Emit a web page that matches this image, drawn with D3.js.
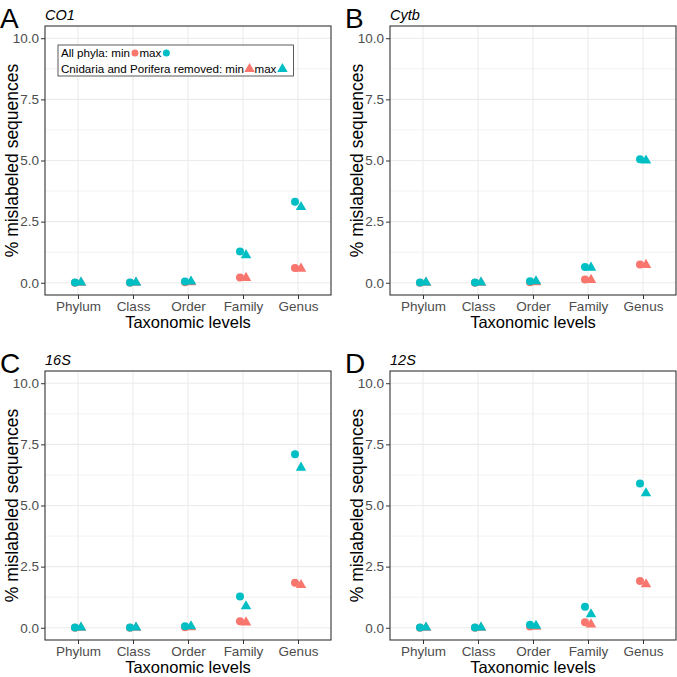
<!DOCTYPE html>
<html><head><meta charset="utf-8">
<script src="https://cdn.jsdelivr.net/npm/d3@7"></script>
<style>body{margin:0;background:#fff}</style>
</head><body>
<script>
const levels = ["Phylum","Class","Order","Family","Genus"];
const yTicks = [0, 2.5, 5, 7.5, 10];
const panelLetters = ["A","B","C","D"];
const genes = ["CO1","Cytb","16S","12S"];
// values per gene (order of genes above), per level
const allMin = [[0,0,0.02,0.22,0.60],[0,0,0.02,0.13,0.75],[0,0,0.02,0.27,1.84],[0,0,0.05,0.23,1.91]];
const allMax = [[0.01,0.01,0.05,1.28,3.31],[0.01,0.01,0.06,0.65,5.05],[0.01,0.01,0.06,1.28,7.10],[0.01,0.01,0.12,0.86,5.90]];
const remMin = [[0,0,0.02,0.20,0.58],[0,0,0.02,0.12,0.73],[0,0,0.02,0.22,1.75],[0,0,0.04,0.14,1.78]];
const remMax = [[0.01,0.01,0.05,1.13,3.10],[0.01,0.01,0.06,0.62,5.00],[0.01,0.01,0.06,0.88,6.55],[0.01,0.01,0.08,0.55,5.50]];

const W = 677, H = 677;
const RED = "#F8766D", CYAN = "#00BFC4";
const FONT = "'Liberation Sans', Arial, sans-serif";
const svg = d3.select("body").append("svg").attr("width", W).attr("height", H)
  .style("font-family", FONT);

const lefts = [45, 390], tops = [26, 371];
const pw = 286, ph = 269;

genes.forEach((gene, gi) => {
  const col = gi % 2, row = Math.floor(gi / 2);
  const x0 = lefts[col], y0 = tops[row];
  const g = svg.append("g").attr("transform", `translate(${x0},${y0})`);
  const x = d3.scalePoint().domain(levels).range([0, pw]).padding(0.6);
  const y = d3.scaleLinear().domain([-0.5, 10.5]).range([ph, 0]);
  const minor = [1.25, 3.75, 6.25, 8.75];
  g.selectAll(".mn").data(minor).enter().append("line")
    .attr("x1", 0).attr("x2", pw).attr("y1", d => y(d)).attr("y2", d => y(d))
    .attr("stroke", "#EBEBEB").attr("stroke-width", 0.6);
  g.selectAll(".mj").data(yTicks).enter().append("line")
    .attr("x1", 0).attr("x2", pw).attr("y1", d => y(d)).attr("y2", d => y(d))
    .attr("stroke", "#EBEBEB").attr("stroke-width", 1.1);
  g.selectAll(".vx").data(levels).enter().append("line")
    .attr("x1", d => x(d)).attr("x2", d => x(d)).attr("y1", 0).attr("y2", ph)
    .attr("stroke", "#EBEBEB").attr("stroke-width", 1.1);

  const ya = g.append("g").call(d3.axisLeft(y).tickValues(yTicks).tickFormat(d3.format(".1f")).tickSize(4).tickPadding(2));
  ya.select(".domain").remove();
  ya.selectAll("line").attr("stroke", "#333").attr("stroke-width", 1);
  ya.selectAll("text").attr("fill", "#4D4D4D").style("font-size", "13.5px").style("font-family", FONT);
  const xa = g.append("g").attr("transform", `translate(0,${ph})`).call(d3.axisBottom(x).tickSize(4).tickPadding(2));
  xa.select(".domain").remove();
  xa.selectAll("line").attr("stroke", "#333").attr("stroke-width", 1);
  xa.selectAll("text").attr("fill", "#4D4D4D").style("font-size", "13.5px").style("font-family", FONT);

  const off = 3;
  const series = [
    {vals: allMin[gi], color: RED, shape: "circle", dx: -off},
    {vals: remMin[gi], color: RED, shape: "tri", dx: off},
    {vals: allMax[gi], color: CYAN, shape: "circle", dx: -off},
    {vals: remMax[gi], color: CYAN, shape: "tri", dx: off}
  ];
  series.forEach(s => {
    levels.forEach((lv, i) => {
      const cx = x(lv) + s.dx, cy = y(s.vals[i]);
      if (s.shape === "circle") {
        g.append("circle").attr("cx", cx).attr("cy", cy).attr("r", 4).attr("fill", s.color);
      } else {
        g.append("path").attr("d", d3.symbol().type(d3.symbolTriangle).size(48)())
          .attr("transform", `translate(${cx},${cy})`).attr("fill", s.color);
      }
    });
  });

  g.append("rect").attr("x", 0).attr("y", 0).attr("width", pw).attr("height", ph)
    .attr("fill", "none").attr("stroke", "#333").attr("stroke-width", 1.1);

  svg.append("text").attr("x", x0 - 45).attr("y", y0 + 2).text(panelLetters[gi])
    .style("font-size", "28px").attr("fill", "#000");
  svg.append("text").attr("x", x0).attr("y", y0 - 6).text(gene)
    .style("font-size", "14.5px").style("font-style", "italic").attr("fill", "#000");
  svg.append("text").attr("x", x0 + pw / 2).attr("y", y0 + ph + 33).attr("text-anchor", "middle")
    .text("Taxonomic levels").style("font-size", "16.5px").attr("fill", "#000");
  svg.append("text").attr("transform", `translate(${x0 - 27},${y0 + ph / 2}) rotate(-90)`)
    .attr("text-anchor", "middle").text("% mislabeled sequences").style("font-size", "17.5px").attr("fill", "#000");

  if (gi === 0) {
    const lg = g.append("g").attr("transform", "translate(13,19)");
    const box = lg.append("rect").attr("x", 0).attr("y", 0).attr("height", 31)
      .attr("fill", "#fff").attr("stroke", "#333").attr("stroke-width", 0.8);
    const fs = "11.6px";
    let t = lg.append("text").attr("x", 3).attr("y", 12).style("font-size", fs).text("All phyla: min");
    let cx = 3 + t.node().getComputedTextLength() + 5;
    lg.append("circle").attr("cx", cx).attr("cy", 8).attr("r", 3.5).attr("fill", RED);
    t = lg.append("text").attr("x", cx + 4.5).attr("y", 12).style("font-size", fs).text("max");
    cx = cx + 4.5 + t.node().getComputedTextLength() + 5;
    lg.append("circle").attr("cx", cx).attr("cy", 8).attr("r", 3.5).attr("fill", CYAN);
    t = lg.append("text").attr("x", 3).attr("y", 27.5).style("font-size", fs).text("Cnidaria and Porifera removed: min");
    cx = 3 + t.node().getComputedTextLength() + 5.5;
    lg.append("path").attr("d", d3.symbol().type(d3.symbolTriangle).size(48)()).attr("transform", `translate(${cx},24)`).attr("fill", RED);
    t = lg.append("text").attr("x", cx + 5).attr("y", 27.5).style("font-size", fs).text("max");
    cx = cx + 5 + t.node().getComputedTextLength() + 6;
    lg.append("path").attr("d", d3.symbol().type(d3.symbolTriangle).size(48)()).attr("transform", `translate(${cx},24)`).attr("fill", CYAN);
    box.attr("width", cx + 11);
  }
});
</script>
</body></html>
